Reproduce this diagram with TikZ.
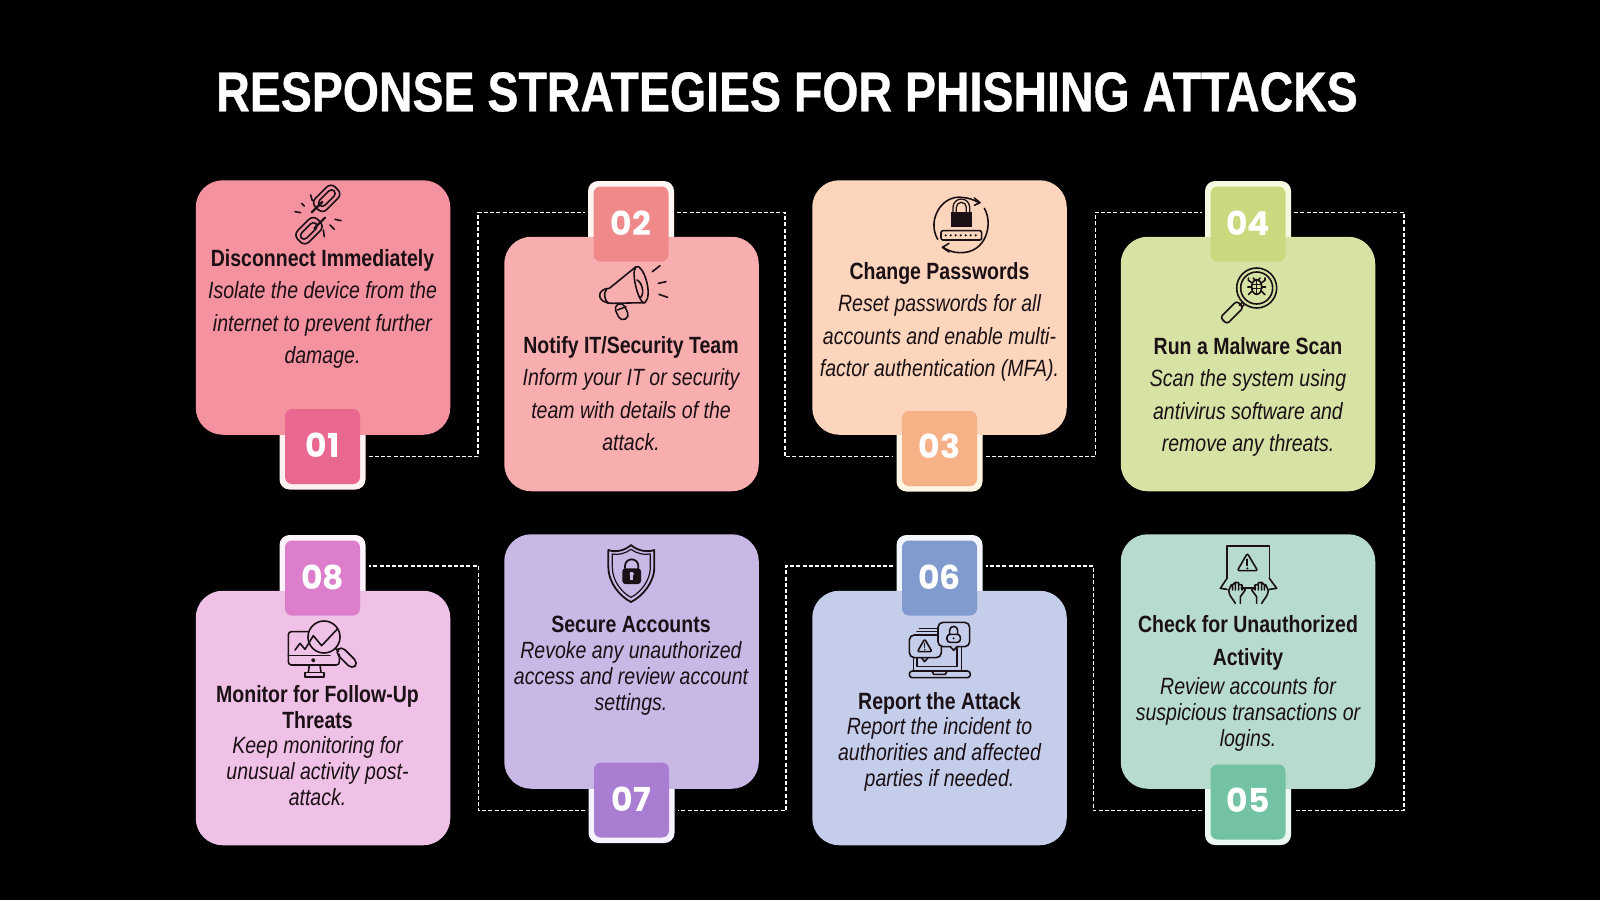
\documentclass[tikz,border=0pt]{standalone}
\usepackage{fontspec}
\setmainfont{Liberation Sans}
\newfontfamily\cardfont[FakeStretch=.83]{Liberation Sans}
\newfontfamily\titlefont[FakeStretch=.83,FakeBold=.6]{Liberation Sans}
\newfontfamily\numfont{Poppins}
\definecolor{inkc}{HTML}{1A1015}
\definecolor{carda}{HTML}{F4929F}\definecolor{badgea}{HTML}{E8688F}\definecolor{framea}{HTML}{FFF0F2}
\definecolor{cardb}{HTML}{F8AEAE}\definecolor{badgeb}{HTML}{F08A8A}\definecolor{frameb}{HTML}{FFF5F3}
\definecolor{cardc}{HTML}{FCD5BC}\definecolor{badgec}{HTML}{F7B186}\definecolor{framec}{HTML}{FFF3E2}
\definecolor{cardd}{HTML}{D6E3A4}\definecolor{badged}{HTML}{CAD97E}\definecolor{framed}{HTML}{F6F9DF}
\definecolor{carde}{HTML}{B7DBCD}\definecolor{badgee}{HTML}{73C2A4}\definecolor{framee}{HTML}{EAF8F1}
\definecolor{cardf}{HTML}{C4CDEA}\definecolor{badgef}{HTML}{829BCF}\definecolor{framef}{HTML}{F3F6FF}
\definecolor{cardg}{HTML}{C9B8E6}\definecolor{badgeg}{HTML}{A97DD1}\definecolor{frameg}{HTML}{F6F2FF}
\definecolor{cardh}{HTML}{EFC1E6}\definecolor{badgeh}{HTML}{DC7ECB}\definecolor{frameh}{HTML}{FFF3FC}
\tikzset{
cardbox/.style={rectangle,rounded corners=27pt,minimum size=254.5pt,inner sep=0pt},
framebox/.style={rectangle,rounded corners=10pt,minimum size=86pt,inner sep=0pt},
badgebox/.style={rectangle,rounded corners=7pt,minimum size=75pt,inner sep=0pt,text=white,font=\numfont\bfseries\fontsize{33}{33}\selectfont},
headtext/.style={text=inkc,align=center,inner sep=0pt,font=\cardfont\bfseries\fontsize{23.5}{#1}\selectfont},
bodytext/.style={text=inkc,align=center,inner sep=0pt,font=\cardfont\itshape\fontsize{23.5}{#1}\selectfont},
dashline/.style={white,line width=1.3pt,dash pattern=on 4pt off 2.2pt,shorten <=3pt,shorten >=3pt},
icon/.style={shift={#1},x=.3333pt,y=-.3333pt,inkc,line width=1.6pt,line cap=round,line join=round},
}
\begin{document}
\begin{tikzpicture}[x=1pt,y=-1pt]
\fill[black] (0,0) rectangle (1600,900);
\useasboundingbox (0,0) rectangle (1600,900);
\node[text=white,inner sep=0pt,font=\titlefont\bfseries\fontsize{56}{56}\selectfont] (title) at (787,92) {RESPONSE STRATEGIES FOR PHISHING ATTACKS};

\foreach \n/\cx/\cy/\bx/\by/\co/\ru in {01/323/307.5/322.5/446.5/a/2,02/631.5/364/631/224/b/1,03/939.5/307.5/939.5/448.5/c/5,04/1248/364/1248/224/d/1,05/1248/661.5/1248/802/e/4,06/939.5/718/939.5/578/f/1,07/631.5/661.5/631.5/800/g/1,08/323/718/322.5/578/h/1}{
\node[framebox,fill=frame\co] (frame\n) at (\bx,\by) {};
\node[cardbox,fill=card\co] (card\n) at (\cx,\cy) {};
\node[badgebox,fill=badge\co] (badge\n) at (\bx,\by) {\raisebox{\ru pt}{\n}};
}

\coordinate (c1a) at (478,456.7); \coordinate (c1b) at (478,212.3);
\coordinate (c2a) at (785,212.3); \coordinate (c2b) at (785,456.7);
\coordinate (c3a) at (1095.4,456.7); \coordinate (c3b) at (1095.4,212.3);
\coordinate (c4a) at (1404,212.3); \coordinate (c4b) at (1404,810.7);
\coordinate (c5a) at (1093.4,810.7); \coordinate (c5b) at (1093.4,566);
\coordinate (c6a) at (786,566); \coordinate (c6b) at (786,810.7);
\coordinate (c7a) at (478.5,810.7); \coordinate (c7b) at (478.5,566);
\draw[dashline] (frame01.east |- c1a) -- (c1a) -- (c1b) -- (frame02.west |- c1b);
\draw[dashline] (frame02.east |- c2a) -- (c2a) -- (c2b) -- (frame03.west |- c2b);
\draw[dashline] (frame03.east |- c3a) -- (c3a) -- (c3b) -- (frame04.west |- c3b);
\draw[dashline] (frame04.east |- c4a) -- (c4a) -- (c4b) -- (frame05.east |- c4b);
\draw[dashline] (frame05.west |- c5a) -- (c5a) -- (c5b) -- (frame06.east |- c5b);
\draw[dashline] (frame06.west |- c6a) -- (c6a) -- (c6b) -- (frame07.east |- c6b);
\draw[dashline] (frame07.west |- c7a) -- (c7a) -- (c7b) -- (frame08.east |- c7b);

\node[headtext=33] (head01) at (322.5,260.5) {Disconnect Immediately};
\node[bodytext=32.5] (text01) at (322.5,325) {Isolate the device from the\\internet to prevent further\\damage.};
\node[headtext=33] (head02) at (631,347) {Notify IT/Security Team};
\node[bodytext=32.5] (text02) at (631,410) {Inform your IT or security\\team with details of the\\attack.};
\node[headtext=33] (head03) at (939.5,273.5) {Change Passwords};
\node[bodytext=32.5] (text03) at (939.5,338) {Reset passwords for all\\accounts and enable multi-\\factor authentication (MFA).};
\node[headtext=33] (head04) at (1248,346) {Run a Malware Scan};
\node[bodytext=32.5] (text04) at (1248,413) {Scan the system using\\antivirus software and\\remove any threats.};
\node[headtext=33] (head05) at (1248,642.5) {Check for Unauthorized\\Activity};
\node[bodytext=26] (text05) at (1248,714) {Review accounts for\\suspicious transactions or\\logins.};
\node[headtext=26] (head06) at (939.5,703) {Report the Attack};
\node[bodytext=26] (text06) at (939.5,754) {Report the incident to\\authorities and affected\\parties if needed.};
\node[headtext=26] (head07) at (631,624) {Secure Accounts};
\node[bodytext=26] (text07) at (631,678) {Revoke any unauthorized\\access and review account\\settings.};
\node[headtext=26] (head08) at (317.5,707) {Monitor for Follow-Up\\Threats};
\node[bodytext=26] (text08) at (317.5,771) {Keep monitoring for\\unusual activity post-\\attack.};

\begin{scope}[icon={(285,180)}]
\draw[rotate around={45:(125,55)},rounded corners=6pt] (83,31) rectangle (167,79);
\draw[rotate around={45:(125,55)},rounded corners=4pt] (95,44) rectangle (157,66);
\draw[line width=2.2pt] (80,97) -- (112,66);
\draw[rotate around={45:(72,152)},rounded corners=6pt] (30,128) rectangle (114,176);
\draw[rotate around={45:(72,152)},rounded corners=4pt] (40,141) rectangle (102,163);
\draw[line width=2.2pt] (88,145) -- (120,113);
\draw (50,70) -- (58,78) (77,45) -- (82,62) (30,95) -- (47,98);
\draw (150,118) -- (168,122) (135,135) -- (148,148) (115,150) -- (118,170);
\end{scope}

\begin{scope}[icon={(590,260)}]
\draw (58,85) -- (138,20) (68,130) -- (165,128);
\draw (138,20) .. controls (160,10) and (190,105) .. (165,128) .. controls (150,140) and (120,40) .. (138,20);
\draw (141,60) .. controls (155,65) and (165,100) .. (152,112);
\draw (58,85) .. controls (20,85) and (15,130) .. (68,130);
\draw (50,88) .. controls (38,100) and (45,122) .. (55,130);
\draw[rotate around={25:(95,155)},rounded corners=5pt] (80,130) rectangle (110,180);
\draw (82,150) -- (108,140);
\draw (187,35) -- (210,17) (205,70) -- (228,65) (207,103) -- (233,112);
\end{scope}

\begin{scope}[icon={(925,190)}]
\draw (38,148) .. controls (5,90) and (50,15) .. (110,22) .. controls (130,23) and (148,30) .. (162,38);
\draw (148,24) -- (165,38) -- (148,46);
\draw (178,55) .. controls (205,100) and (185,190) .. (105,188) .. controls (85,188) and (70,182) .. (54,172);
\draw (72,160) -- (52,172) -- (72,186);
\fill (78,65) rectangle (140,112);
\draw[line width=1.3pt] (84,65) -- (84,52) arc[start angle=180,end angle=360,radius=25] -- (134,65);
\draw[line width=1.3pt] (94,65) -- (94,52) arc[start angle=180,end angle=360,radius=15] -- (124,65);
\draw[rounded corners=2pt] (48,122) rectangle (170,150);
\foreach \i in {62,77,92,107,122,137,152}{\fill (\i,136) circle (3.5);}
\end{scope}

\begin{scope}[icon={(1210,262)}]
\draw (140,78) circle (60);
\draw (140,78) circle (48);
\draw (98,120) -- (88,130) (104,126) -- (94,136);
\draw[rotate around={-45:(62,155)},rounded corners=3pt] (48,115) rectangle (76,185);
\draw (140,75) ellipse (15 and 22);
\draw (140,55) -- (140,97) (127,68) -- (153,68) (125,80) -- (155,80);
\draw (130,48) -- (136,56) (150,48) -- (144,56);
\draw (125,62) -- (115,55) -- (115,48) (125,75) -- (113,75) (125,88) -- (115,98);
\draw (155,62) -- (165,55) -- (165,48) (155,75) -- (167,75) (155,88) -- (165,98);
\end{scope}

\begin{scope}[icon={(1212,540)}]
\draw (45,115) -- (45,18) -- (172,18) -- (172,115);
\draw[rounded corners=2pt] (106,40) -- (76,92) -- (137,92) -- cycle;
\draw[line width=1.8pt] (106,58) -- (106,76);
\fill (106,85) circle (3.5);
\draw (45,115) -- (25,145) -- (45,148) (172,115) -- (194,145) -- (172,148);
\draw[line width=1.8pt] (88,145) -- (130,145);
\foreach \m/\o in {1/0,-1/219}{
\begin{scope}[shift={(\o,0)},xscale=\m]
\draw (50,152) -- (58,134) (70,150) -- (70,127) -- (62,134) -- (62,150) (70,127) -- (80,128) -- (80,150) (80,133) -- (90,135) -- (90,150);
\draw (50,152) .. controls (52,170) and (62,175) .. (70,190);
\draw (90,140) -- (100,150) -- (85,170) -- (85,190);
\end{scope}}
\end{scope}

\begin{scope}[icon={(902,615)}]
\draw[rounded corners=3pt] (22,168) rectangle (205,188);
\draw (90,168) -- (95,178) -- (130,178) -- (135,168);
\draw (35,128) -- (35,168) (45,128) -- (45,155) -- (165,155) -- (165,95) (178,95) -- (178,168);
\draw (45,50) -- (108,50) (52,40) -- (108,40);
\draw[rounded corners=5pt,fill=cardf] (22,60) rectangle (118,128);
\draw (58,128) -- (68,140) -- (78,128);
\draw[rounded corners=2pt] (68,72) -- (46,110) -- (90,110) -- cycle;
\draw (68,85) -- (68,97);
\fill (68,104) circle (2.5);
\draw[rounded corners=5pt,fill=cardf] (108,22) rectangle (203,95);
\draw[fill=cardf,draw=none] (145,93) -- (155,106) -- (165,93);
\draw (145,95) -- (155,106) -- (165,95);
\draw[rounded corners=3pt] (135,58) rectangle (175,82);
\draw (143,58) -- (143,46) arc[start angle=180,end angle=360,radius=12] -- (167,58);
\fill (155,70) circle (3.5);
\end{scope}

\begin{scope}[icon={(595,540)}]
\draw[line width=1.8pt] (40,30) .. controls (60,38) and (90,32) .. (108,15) .. controls (126,32) and (158,38) .. (178,30) -- (178,80) .. controls (178,130) and (140,170) .. (108,186) .. controls (76,170) and (40,130) .. (40,80) -- cycle;
\draw[line width=1.2pt] (52,42) .. controls (70,46) and (92,40) .. (108,28) .. controls (124,40) and (148,46) .. (166,42) -- (166,82) .. controls (166,122) and (136,158) .. (108,172) .. controls (80,158) and (52,122) .. (52,82) -- cycle;
\fill[rounded corners=3pt] (82,85) rectangle (138,132);
\draw[line width=1.8pt] (90,85) -- (90,78) arc[start angle=180,end angle=360,radius=20] -- (130,85);
\fill[cardg] (110,102) circle (6.5);
\fill[cardg] (106,105) rectangle (114,120);
\end{scope}

\begin{scope}[icon={(280,615)}]
\draw[rounded corners=3pt] (85,50) -- (25,50) -- (25,150) -- (178,150) -- (178,118);
\draw (25,122) -- (150,122);
\draw (100,136) circle (4);
\draw (88,150) -- (85,172) (120,150) -- (123,172);
\draw (75,172) rectangle (132,186);
\draw (45,105) -- (60,85) -- (75,103) -- (100,62) -- (125,92) -- (172,42);
\draw (132,66) circle (48);
\draw (166,100) -- (176,110);
\draw[rotate around={45:(200,128)},rounded corners=5pt] (187,92) rectangle (213,164);
\end{scope}
\end{tikzpicture}
\end{document}
